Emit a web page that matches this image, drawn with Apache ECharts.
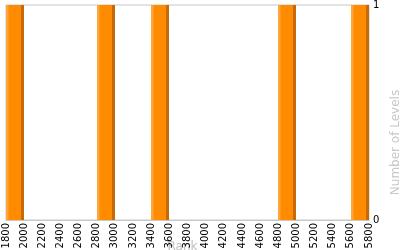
<!DOCTYPE html>
<html><head><meta charset="utf-8">
<script src="https://cdn.jsdelivr.net/npm/echarts@6/dist/echarts.min.js"></script>
<style>html,body{margin:0;padding:0;background:#fff}#c{width:400px;height:250px}</style>
</head><body><div id="c"></div>
<script>
var binStarts = [1800, 2800, 3400, 4800, 5600];
var binWidth = 200;
var levelCounts = [1, 1, 1, 1, 1];
var xMin = 1800, xMax = 5800, xStep = 200;
var yTicks = [0, 1];

var data = binStarts.map(function (s, i) { return [s, s + binWidth, levelCounts[i]]; });

var chart = echarts.init(document.getElementById('c'), null, {renderer: 'canvas'});
chart.setOption({
  animation: false,
  grid: {left: 6, right: 31, top: 5, bottom: 30, containLabel: false, outerBoundsMode: 'none',
         show: true, borderColor: '#c8c8c8', borderWidth: 1, backgroundColor: 'transparent'},
  xAxis: {
    type: 'value', min: xMin, max: xMax, interval: xStep,
    name: 'Rank', nameLocation: 'middle', nameGap: 21, nameMoveOverlap: false,
    nameTextStyle: {color: '#c0c0c0', fontFamily: 'DejaVu Sans', fontSize: 12, padding: [0, 10, 0, 0]},
    axisLine: {show: true, lineStyle: {color: '#c8c8c8'}},
    axisTick: {show: false},
    splitLine: {show: false},
    axisLabel: {rotate: 90, margin: 3, color: '#000', fontFamily: 'DejaVu Sans', fontSize: 10,
                formatter: function (v) { return String(v); }}
  },
  yAxis: {
    type: 'value', position: 'right', min: yTicks[0], max: yTicks[1], interval: 1,
    name: 'Number of Levels', nameLocation: 'middle', nameGap: 21, nameRotate: 90, nameMoveOverlap: false,
    nameTextStyle: {color: '#c8c8c8', fontFamily: 'DejaVu Sans', fontSize: 12, padding: [0, 60, 0, 0]},
    axisLine: {show: false}, axisTick: {show: false}, splitLine: {show: false},
    axisLabel: {margin: 4, color: '#000', fontFamily: 'DejaVu Sans', fontSize: 10}
  },
  series: [{
    type: 'custom',
    data: data,
    encode: {x: [0, 1], y: 2},
    renderItem: function (params, api) {
      var p0 = api.coord([api.value(0), 0]);
      var p1 = api.coord([api.value(1), api.value(2)]);
      var x0 = Math.round(p0[0]), x1 = Math.round(p1[0]);
      var yb = p0[1], yt = p1[1];
      var h = yb - yt;
      return {
        type: 'group',
        children: [
          {type: 'rect', shape: {x: x0, y: yt, width: x1 - x0, height: h}, style: {fill: '#FF8C00'}},
          {type: 'rect', shape: {x: x0, y: yt, width: 2.5, height: h}, style: {fill: '#FFA63A'}},
          {type: 'rect', shape: {x: x1 - 3, y: yt, width: 3, height: h}, style: {fill: '#C46A08'}}
        ]
      };
    }
  }]
});
</script></body></html>
